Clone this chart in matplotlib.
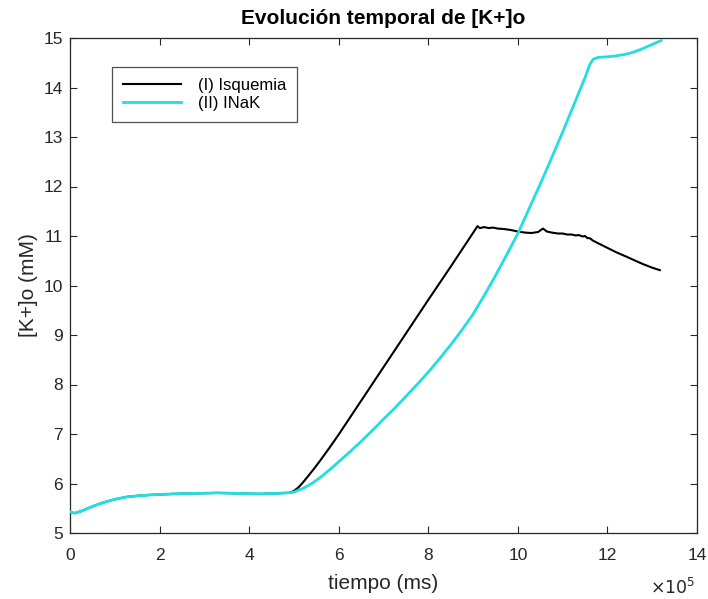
import numpy as np
import matplotlib
matplotlib.use("Agg")
import matplotlib.pyplot as plt

# time in units of 1e5 ms
t_isq = [0.0, 0.1, 0.25, 0.4, 0.6, 0.8, 1.0, 1.27, 1.5, 1.8, 2.3, 2.75, 3.3, 3.8, 4.24, 4.6, 4.9,
         5.0, 5.1, 5.2, 5.3, 5.45, 5.6, 5.8, 6.0, 6.5, 7.0, 7.5, 8.0, 8.5, 9.1,
         9.15, 9.25, 9.35, 9.45, 9.55, 9.7, 9.85, 10.0, 10.15, 10.3, 10.45, 10.56, 10.65,
         10.75, 10.9, 11.0, 11.1, 11.2, 11.3, 11.35, 11.45, 11.5, 11.55, 11.62, 11.67,
         11.8, 12.0, 12.2, 12.43, 12.6, 12.8, 13.0, 13.17]
k_isq = [5.43, 5.40, 5.44, 5.50, 5.57, 5.63, 5.68, 5.73, 5.75, 5.77, 5.79, 5.80, 5.81, 5.80, 5.79, 5.80, 5.81,
         5.85, 5.92, 6.02, 6.13, 6.30, 6.48, 6.73, 6.99, 7.67, 8.35, 9.03, 9.71, 10.38, 11.2,
         11.16, 11.18, 11.16, 11.17, 11.15, 11.14, 11.12, 11.09, 11.07, 11.06, 11.08, 11.15, 11.09,
         11.07, 11.05, 11.05, 11.03, 11.03, 11.01, 11.02, 10.99, 11.00, 10.96, 10.95, 10.91,
         10.85, 10.76, 10.67, 10.58, 10.51, 10.43, 10.36, 10.31]

t_nak = [0.0, 0.1, 0.25, 0.4, 0.6, 0.8, 1.0, 1.27, 1.5, 1.8, 2.3, 2.75, 3.3, 3.8, 4.24, 4.6, 4.98,
         5.2, 5.4, 5.6, 5.8, 6.0, 6.25, 6.5, 6.75, 7.0, 7.25, 7.5, 7.75, 8.0, 8.25,
         8.5, 8.75, 9.0, 9.25, 9.5, 9.75, 10.0, 10.25, 10.5, 10.75, 11.0, 11.25, 11.5,
         11.6, 11.68, 11.8, 12.0, 12.2, 12.4, 12.6, 12.8, 13.0, 13.2]
k_nak = [5.43, 5.40, 5.44, 5.50, 5.57, 5.63, 5.68, 5.73, 5.75, 5.77, 5.79, 5.80, 5.81, 5.80, 5.79, 5.80, 5.82,
         5.90, 6.00, 6.13, 6.28, 6.44, 6.64, 6.85, 7.07, 7.30, 7.52, 7.76, 8.00, 8.25, 8.52,
         8.80, 9.10, 9.42, 9.80, 10.20, 10.62, 11.05, 11.55, 12.05, 12.57, 13.10, 13.65, 14.20,
         14.45, 14.57, 14.61, 14.62, 14.64, 14.67, 14.72, 14.79, 14.87, 14.95]

xticks = [0, 2, 4, 6, 8, 10, 12, 14]
yticks = [5, 6, 7, 8, 9, 10, 11, 12, 13, 14, 15]

plt.rcParams['font.family'] = ['Liberation Sans', 'DejaVu Sans']

fig = plt.figure(figsize=(7.08, 5.99), dpi=100)
ax = fig.add_axes([70/708, 1-533/599, (697-70)/708, (533-38)/599])

ax.plot(t_isq, k_isq, color='black', lw=1.5, label='(I) Isquemia', zorder=2)
ax.plot(t_nak, k_nak, color='#22dede', lw=2.0, label='(II) INaK', zorder=3)

ax.set_xlim(0, 14)
ax.set_ylim(5, 15)
ax.set_xticks(xticks)
ax.set_yticks(yticks)
ax.tick_params(direction='in', top=True, right=True, length=5, width=0.8,
               colors='#262626', labelsize=12.5)
ax.tick_params(axis='x', pad=10.5)
ax.tick_params(axis='y', pad=5)
for s in ax.spines.values():
    s.set_color('#262626')
    s.set_linewidth(0.9)

ax.set_xlabel('tiempo (ms)', fontsize=15, color='#262626', labelpad=8)
ax.set_ylabel('[K+]o (mM)', fontsize=15, color='#262626', labelpad=4)
ax.set_title('Evolución temporal de [K+]o', fontsize=15, fontweight='bold', pad=10)

fig.text(695/708, 1-597/599, r'$\times10^5$', ha='right', va='bottom',
         fontsize=12.5, color='#262626')

leg = ax.legend(loc='upper left', bbox_to_anchor=(42/627, 1-29/495), frameon=True,
                fancybox=False, edgecolor='#262626', fontsize=12, handlelength=3.5,
                handletextpad=1.0, borderpad=0.65, labelspacing=0.2, borderaxespad=0)
leg.get_frame().set_linewidth(0.9)

fig.savefig('out.png', dpi=100)
